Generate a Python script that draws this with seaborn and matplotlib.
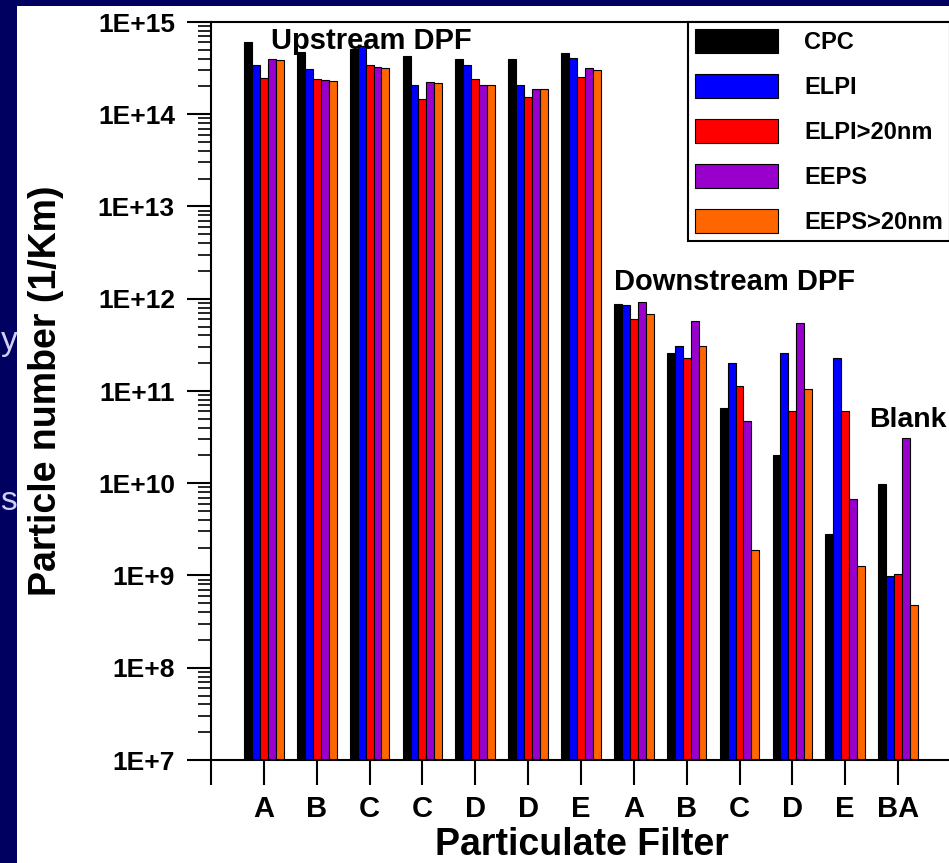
import numpy as np
import pandas as pd
import matplotlib
matplotlib.use("Agg")
import matplotlib.pyplot as plt
import seaborn as sns
from matplotlib.patches import Rectangle
from matplotlib.ticker import LogLocator, NullFormatter

# ---------------- data ----------------
groups = ["A", "B", "C", "C", "D", "D", "E", "A", "B", "C", "D", "E", "BA"]
instruments = ["CPC", "ELPI", "ELPI>20nm", "EEPS", "EEPS>20nm"]
cpc = [6.1e14, 4.7e14, 5.1e14, 4.3e14, 3.95e14, 4.0e14, 4.6e14,
       8.8e11, 2.6e11, 6.6e10, 2.0e10, 2.8e9, 9.9e9]
elpi = [3.4e14, 3.1e14, 5.5e14, 2.1e14, 3.4e14, 2.1e14, 4.1e14,
        8.5e11, 3.1e11, 2.0e11, 2.6e11, 2.3e11, 9.9e8]
elpi20 = [2.5e14, 2.4e14, 3.4e14, 1.46e14, 2.4e14, 1.54e14, 2.55e14,
          6.0e11, 2.26e11, 1.13e11, 6.1e10, 6.0e10, 1.04e9]
eeps = [4.0e14, 2.35e14, 3.25e14, 2.25e14, 2.1e14, 1.9e14, 3.2e14,
        9.2e11, 5.8e11, 4.7e10, 5.4e11, 6.7e9, 3.1e10]
eeps20 = [3.9e14, 2.3e14, 3.15e14, 2.2e14, 2.05e14, 1.86e14, 3.05e14,
          6.9e11, 3.05e11, 1.9e9, 1.05e11, 1.28e9, 4.8e8]
ytick_values = [1e7, 1e8, 1e9, 1e10, 1e11, 1e12, 1e13, 1e14, 1e15]
ytick_labels = ["1E+7", "1E+8", "1E+9", "1E+10", "1E+11", "1E+12",
                "1E+13", "1E+14", "1E+15"]
colors = ["#000000", "#0000FF", "#FF0000", "#9900CC", "#FF6600"]

series = [cpc, elpi, elpi20, eeps, eeps20]
rows = []
for inst, vals in zip(instruments, series):
    for i, v in enumerate(vals):
        rows.append({"pos": i + 1, "instrument": inst, "value": v})
df = pd.DataFrame(rows)

# ---------------- style ----------------
sns.set_style("ticks")
plt.rcParams["font.family"] = ["Liberation Sans", "DejaVu Sans"]
plt.rcParams["font.weight"] = "bold"
for k in ["text.color", "axes.labelcolor", "xtick.color", "ytick.color", "axes.edgecolor"]:
    plt.rcParams[k] = "black"

W, H = 949, 863
fig = plt.figure(figsize=(W / 100, H / 100), dpi=100)
navy = "#000060"
fig.patch.set_facecolor(navy)
fig.add_artist(Rectangle((17 / W, 0), 1, (H - 6) / H, transform=fig.transFigure,
                         facecolor="white", edgecolor="none", zorder=-10))

# slide text fragments on the left navy strip
fig.text(0.5 / W, (H - 350) / H, "y", ha="left", va="baseline", color="#d0d0f5",
         fontsize=24, fontweight="normal")
fig.text(0.5 / W, (H - 510) / H, "s", ha="left", va="baseline", color="#d0d0f5",
         fontsize=24, fontweight="normal")

ax_left, ax_top, ax_bottom = 211, 22, 760
unit = 52.85
ax = fig.add_axes([ax_left / W, (H - ax_bottom) / H, 14 * unit / W, (ax_bottom - ax_top) / H])
ax.set_facecolor("white")
ax.set_yscale("log")

sns.barplot(data=df, x="pos", y="value", hue="instrument", hue_order=instruments,
            palette=colors, saturation=1, native_scale=True, width=0.75, gap=0,
            edgecolor="black", linewidth=0.8, errorbar=None, ax=ax)

ax.set_xlim(0, 14)
ax.set_ylim(1e7, 1e15)

# ticks
ax.set_yticks(ytick_values)
ax.set_yticklabels(ytick_labels)
ax.yaxis.set_minor_locator(LogLocator(base=10, subs=np.arange(2, 10)))
ax.yaxis.set_minor_formatter(NullFormatter())
ax.set_xticks(range(0, 14))
ax.set_xticklabels([""] + groups)
ax.tick_params(axis="y", which="major", direction="out", length=17, width=1.5,
               pad=9, labelsize=19, colors="black")
ax.tick_params(axis="y", which="minor", direction="out", length=9.5, width=1.2,
               colors="black")
ax.tick_params(axis="x", which="major", direction="out", length=18, width=1.5,
               pad=7, labelsize=21, colors="black")
for lab in ax.get_xticklabels() + ax.get_yticklabels():
    lab.set_fontweight("bold")

for s in ["left", "bottom", "top"]:
    ax.spines[s].set_linewidth(1.5)
    ax.spines[s].set_color("black")
ax.spines["right"].set_visible(False)

# axis labels
ax.set_xlabel("Particulate Filter", fontsize=27, fontweight="bold", color="black")
ax.xaxis.label.set_va("baseline")
ax.xaxis.set_label_coords((582 - ax_left) / (14 * unit), (ax_bottom - 855) / (ax_bottom - ax_top))
ax.set_ylabel("Particle number (1/Km)", fontsize=27, fontweight="bold", color="black")
ax.yaxis.label.set_va("center")
ax.yaxis.set_label_coords((46 - ax_left) / (14 * unit), 0.5)

# annotations
ax.text(1.14, 5.1e14, "Upstream DPF", fontsize=21, fontweight="bold",
        va="baseline", ha="left", zorder=10, color="black")
ax.text(7.62, 1.245e12, "Downstream DPF", fontsize=21, fontweight="bold",
        va="baseline", ha="left", zorder=10, color="black")
ax.text(12.46, 4.07e10, "Blank", fontsize=20.5, fontweight="bold",
        va="baseline", ha="left", zorder=10, color="black")

# legend
sns.move_legend(ax, "upper left", bbox_to_anchor=((688 - ax_left) / (14 * unit), 1.0),
                borderaxespad=0, title=None, frameon=True, fancybox=False,
                fontsize=17, handlelength=3.52, handleheight=1.19,
                handletextpad=1.1, labelspacing=0.85, borderpad=0.3)
leg = ax.get_legend()
leg.get_frame().set_edgecolor("black")
leg.get_frame().set_linewidth(1.5)
leg.get_frame().set_alpha(1)
for t in leg.get_texts():
    t.set_fontweight("bold")
    t.set_color("black")
for h in leg.legend_handles:
    h.set_edgecolor("black")
    h.set_linewidth(0.8)

fig.savefig("out.png", dpi=100, facecolor=fig.get_facecolor())
